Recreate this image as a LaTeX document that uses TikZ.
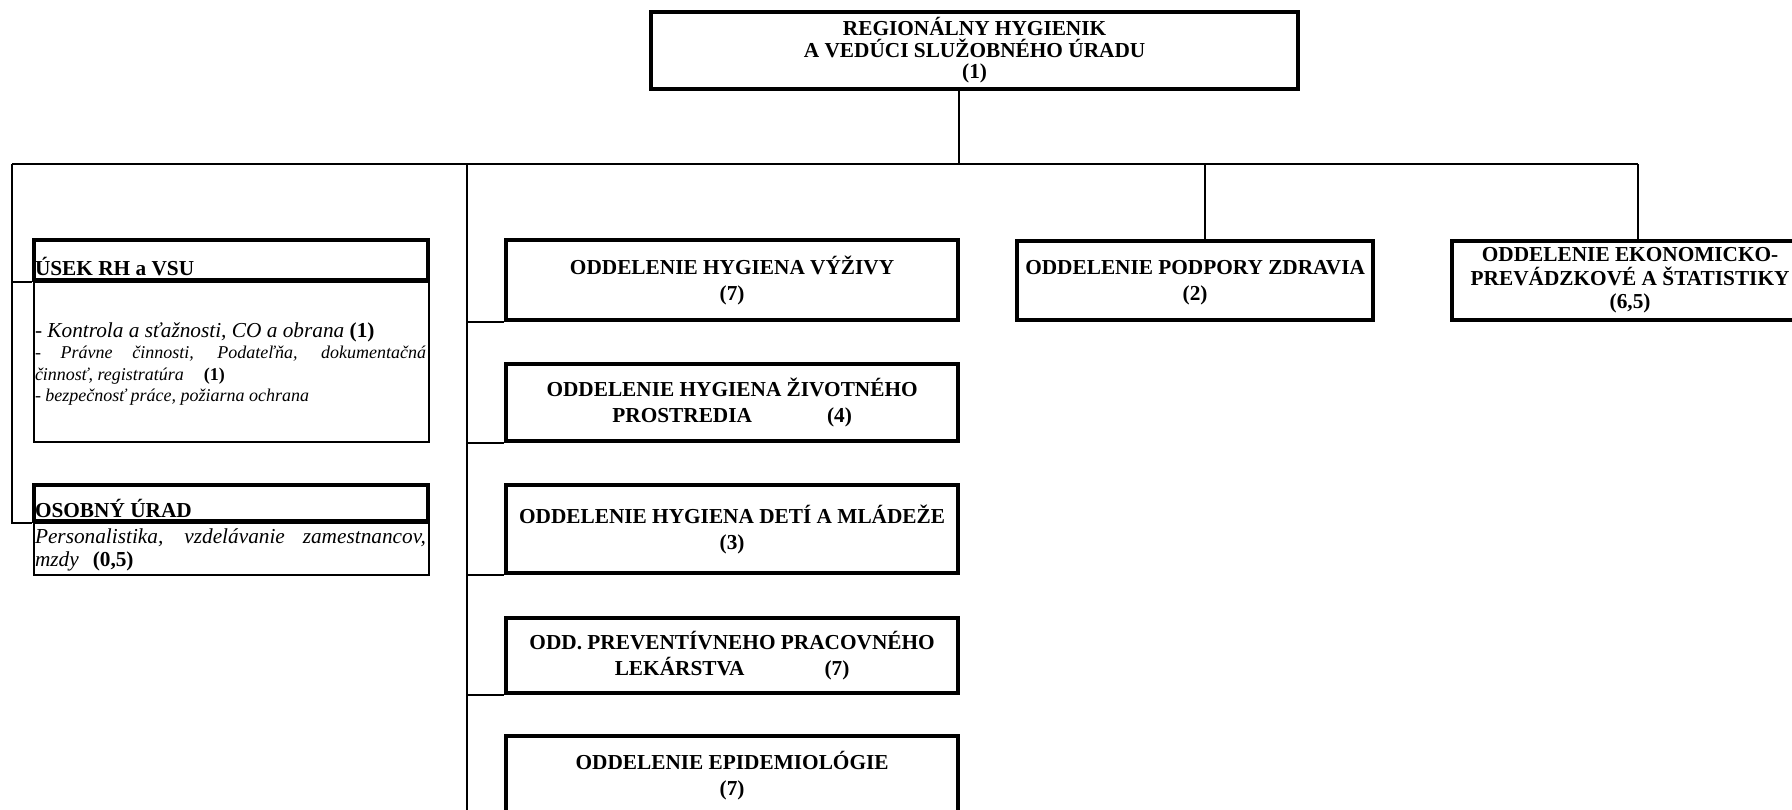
\documentclass[tikz,border=0pt]{standalone}
\usepackage{fontspec}
\setmainfont{Liberation Serif}
\newcommand{\myBig}{\fontsize{21.3}{26}\selectfont}
\newcommand{\mySmall}{\fontsize{18}{21}\selectfont}
\begin{document}
\begin{tikzpicture}[x=1pt,y=-1pt,
  thickbox/.style={draw, line width=4.2pt, rectangle, inner sep=0pt, align=center, font=\bfseries\fontsize{21.3}{26}\selectfont},
  thinbox/.style={draw, line width=1.6pt, rectangle, inner sep=0pt},
  conn/.style={line width=2pt},
  txt/.style={anchor=base west, inner sep=0pt, outer sep=0pt}]
\useasboundingbox[fill=white] (0,0) rectangle (1792,809);
\clip (0,0) rectangle (1792,809);

% top box
\node[thickbox, minimum width=647pt, minimum height=77pt, anchor=north west,
      font=\bfseries\fontsize{21.3}{21.5}\selectfont] (top) at (649,10)
  {REGIONÁLNY HYGIENIK\\A VEDÚCI SLUŽOBNÉHO ÚRADU\\(1)};

% left column
\node[thickbox, minimum width=394pt, minimum height=40pt, anchor=north west] (usek) at (32,238) {};
\node[thinbox, minimum width=395pt, minimum height=160pt, anchor=north west] (usekb) at (33,281) {};
\node[txt, font=\bfseries\myBig] (usekt) at (35,275) {ÚSEK RH a VSU};
\node[txt, font=\myBig\itshape] (u1) at (35,337) {- Kontrola a sťažnosti, CO a obrana \textbf{\upshape (1)}};
\node[txt, font=\mySmall\itshape] (u2) at (35,358) {\makebox[391pt][s]{- Právne činnosti, Podateľňa, dokumentačná}};
\node[txt, font=\mySmall\itshape] (u3) at (35,380) {činnosť, registratúra\hspace{20pt}\textbf{\upshape (1)}};
\node[txt, font=\mySmall\itshape] (u4) at (35,401) {- bezpečnosť práce, požiarna ochrana};

\node[thickbox, minimum width=394pt, minimum height=36pt, anchor=north west] (osob) at (32,483) {};
\node[thinbox, minimum width=395pt, minimum height=52pt, anchor=north west] (osobb) at (33,522) {};
\node[txt, font=\bfseries\myBig] (osobt) at (35,517) {OSOBNÝ ÚRAD};
\node[txt, font=\myBig\itshape] (o1) at (35,543) {\makebox[391pt][s]{Personalistika, vzdelávanie zamestnancov,}};
\node[txt, font=\myBig\itshape] (o2) at (35,566) {mzdy\hspace{14pt}\textbf{\upshape (0,5)}};

% middle column
\node[thickbox, minimum width=452pt, minimum height=80pt, anchor=north west] (vyz) at (504,238)
  {ODDELENIE HYGIENA VÝŽIVY\\(7)};
\node[thickbox, minimum width=452pt, minimum height=77pt, anchor=north west] (ziv) at (504,362)
  {ODDELENIE HYGIENA ŽIVOTNÉHO\\PROSTREDIA\hspace{75pt}(4)};
\node[thickbox, minimum width=452pt, minimum height=88pt, anchor=north west] (deti) at (504,483)
  {ODDELENIE HYGIENA DETÍ A MLÁDEŽE\\(3)};
\node[thickbox, minimum width=452pt, minimum height=75pt, anchor=north west] (prev) at (504,616)
  {ODD. PREVENTÍVNEHO PRACOVNÉHO\\LEKÁRSTVA\hspace{80pt}(7)};
\node[thickbox, minimum width=452pt, minimum height=80pt, anchor=north west] (epid) at (504,734)
  {ODDELENIE EPIDEMIOLÓGIE\\(7)};

% right boxes
\node[thickbox, minimum width=356pt, minimum height=79pt, anchor=north west] (podp) at (1015,239)
  {\vphantom{Á}ODDELENIE PODPORY ZDRAVIA\\(2)};
\node[thickbox, minimum width=356pt, minimum height=79pt, anchor=north west,
      font=\bfseries\fontsize{21.3}{23.5}\selectfont] (ekon) at (1450,239)
  {ODDELENIE EKONOMICKO-\\PREVÁDZKOVÉ A ŠTATISTIKY\\(6,5)};

% connectors
\coordinate (bl) at (12,164);
\coordinate (br) at (1638,164);
\coordinate (bm) at (467,164);
\coordinate (bp) at (1205,164);
\coordinate (bt) at (959,164);
\draw[conn] (bl) -- (br);
\draw[conn] (top.south -| bt) -- (bt);
\draw[conn] (bl) -- (bl |- osob.south west) -- (osob.south west);
\draw[conn] (bl |- usek.south west) -- (usek.south west);
\draw[conn] (bm) -- (bm |- epid.south west) -- (epid.south west);
\foreach \b in {vyz,ziv,deti,prev}
  \draw[conn] (bm |- \b.south west) -- (\b.south west);
\draw[conn] (bp) -- (bp |- podp.north);
\draw[conn] (br) -- (br |- ekon.north);
\end{tikzpicture}
\end{document}
